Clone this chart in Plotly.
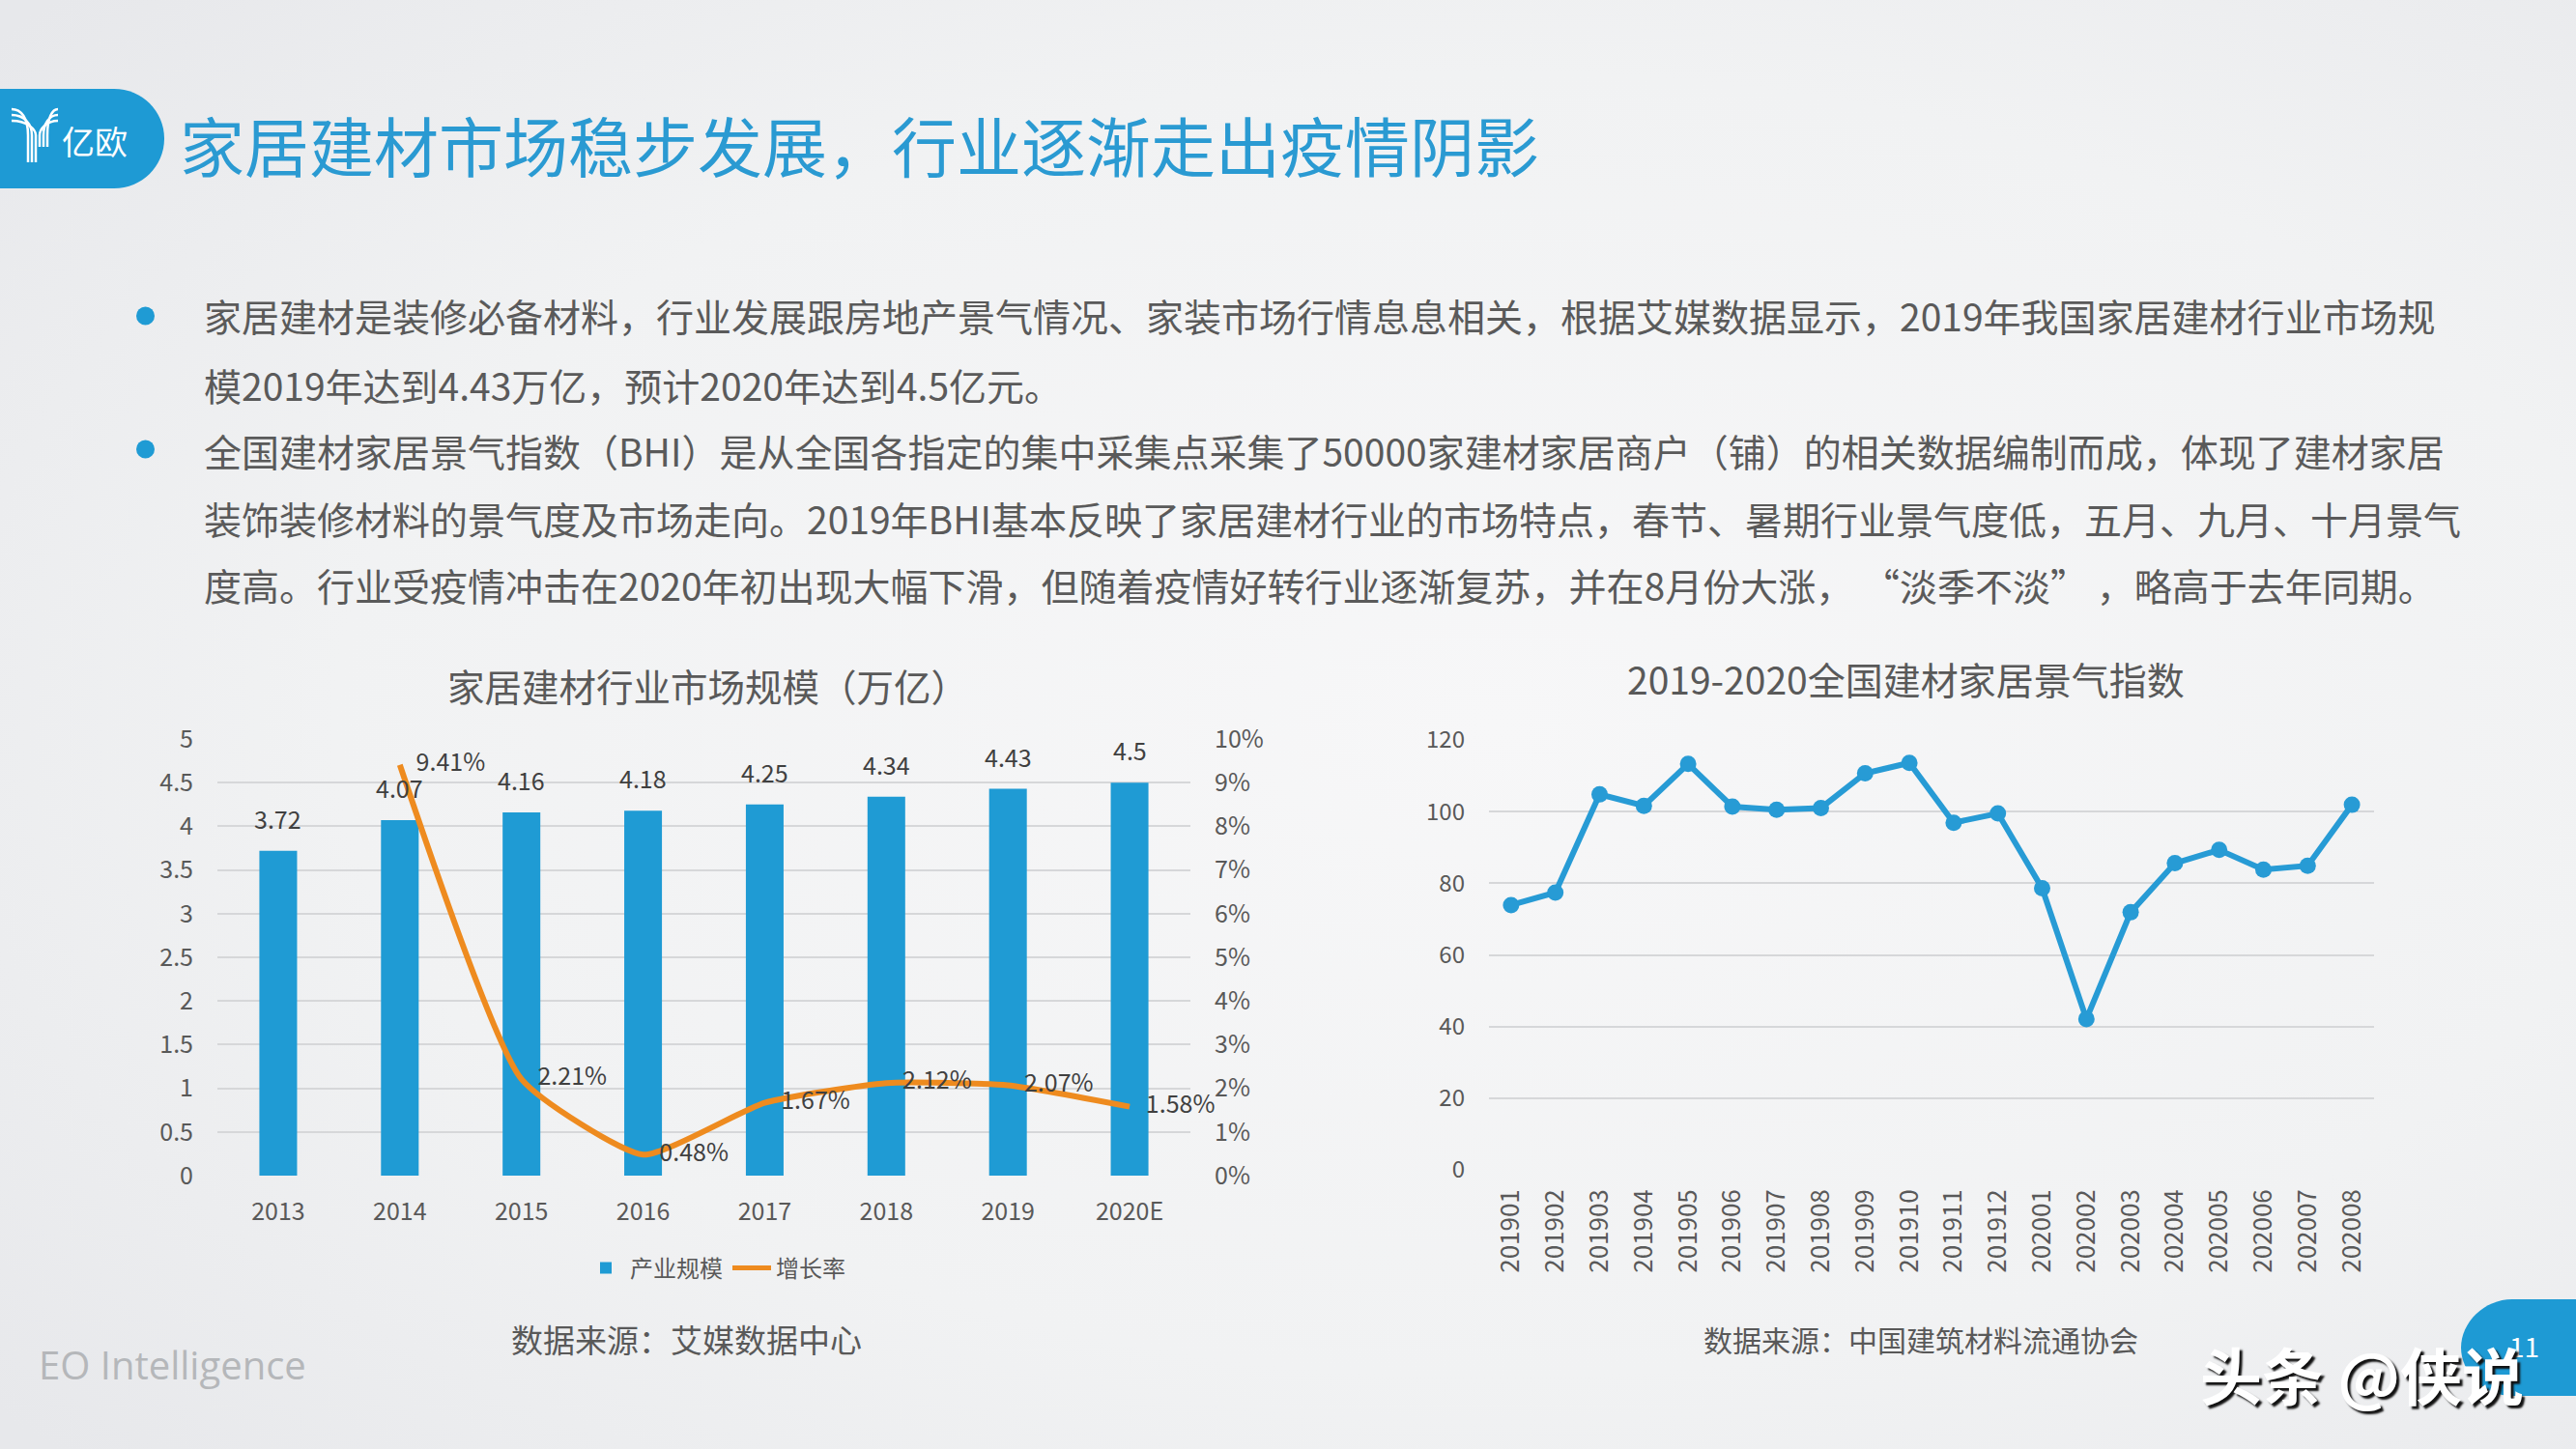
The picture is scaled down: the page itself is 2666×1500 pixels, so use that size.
import base64
import plotly.graph_objects as go

# ---------------- data ----------------
years = ["2013", "2014", "2015", "2016", "2017", "2018", "2019", "2020E"]
market_size = [3.72, 4.07, 4.16, 4.18, 4.25, 4.34, 4.43, 4.5]
growth_rate = [None, 9.41, 2.21, 0.48, 1.67, 2.12, 2.07, 1.58]

months = ["201901", "201902", "201903", "201904", "201905", "201906", "201907",
          "201908", "201909", "201910", "201911", "201912", "202001", "202002",
          "202003", "202004", "202005", "202006", "202007", "202008"]
bhi = [73.9, 77.4, 104.8, 101.6, 113.3, 101.4, 100.5, 101.0, 110.7, 113.6,
       96.9, 99.5, 78.6, 42.1, 71.9, 85.6, 89.3, 83.8, 84.9, 101.9]

title_text = "家居建材市场稳步发展，行业逐渐走出疫情阴影"
bullet_lines = [
    "家居建材是装修必备材料，行业发展跟房地产景气情况、家装市场行情息息相关，根据艾媒数据显示，2019年我国家居建材行业市场规",
    "模2019年达到4.43万亿，预计2020年达到4.5亿元。",
    "全国建材家居景气指数（BHI）是从全国各指定的集中采集点采集了50000家建材家居商户（铺）的相关数据编制而成，体现了建材家居",
    "装饰装修材料的景气度及市场走向。2019年BHI基本反映了家居建材行业的市场特点，春节、暑期行业景气度低，五月、九月、十月景气",
    "度高。行业受疫情冲击在2020年初出现大幅下滑，但随着疫情好转行业逐渐复苏，并在8月份大涨， “淡季不淡” ，略高于去年同期。",
]
left_title = "家居建材行业市场规模（万亿）"
right_title = "2019-2020全国建材家居景气指数"
left_source = "数据来源：艾媒数据中心"
right_source = "数据来源：中国建筑材料流通协会"

# ---------------- geometry helpers ----------------
W, H = 2666, 1500
def px(x):
    return x / W
def py(y):
    return 1 - y / H

FONT = "Noto Sans CJK SC"
GRAY = "#595959"
BLUE = "#1F9BD4"
ORANGE = "#EE8B1F"

fig = go.Figure()

# Left chart: bars + growth line
fig.add_trace(go.Bar(
    x=years, y=market_size, name="产业规模",
    marker=dict(color=BLUE, line=dict(width=0)),
    cliponaxis=False, xaxis="x", yaxis="y",
))
fig.add_trace(go.Scatter(
    x=years, y=growth_rate, name="增长率", mode="lines+text",
    line=dict(color=ORANGE, width=6, shape="spline", smoothing=0.5),
    text=[("" if v is None else f"   {v:.2f}%") for v in growth_rate],
    textposition="middle right",
    textfont=dict(size=25, color="#404040", family=FONT),
    cliponaxis=False, xaxis="x", yaxis="y2",
))

# Right chart: BHI line
fig.add_trace(go.Scatter(
    x=months, y=bhi, mode="lines+markers", showlegend=False,
    line=dict(color="#279BD5", width=6),
    marker=dict(color="#279BD5", size=17),
    cliponaxis=False, xaxis="x3", yaxis="y3",
))

axis_font = dict(size=25, color=GRAY, family=FONT)
fig.update_layout(
    width=W, height=H, autosize=False,
    margin=dict(l=0, r=0, t=0, b=0, pad=0, autoexpand=False),
    paper_bgcolor="#EFF0F2", plot_bgcolor="rgba(0,0,0,0)",
    font=dict(family=FONT, color=GRAY),
    bargap=0.69,
    xaxis=dict(domain=[px(225), px(1232)], type="category", range=[-0.5, 7.5],
               showgrid=False, showline=False, ticks="", tickfont=axis_font,
               ticklabelstandoff=20, anchor="y", automargin=False),
    yaxis=dict(domain=[py(1217), py(765)], range=[0, 5], dtick=0.5,
               showgrid=True, gridcolor="#D6D7D9", gridwidth=2, zeroline=False,
               showline=False, ticks="", tickfont=axis_font, ticklabelstandoff=24,
               anchor="x", automargin=False),
    yaxis2=dict(overlaying="y", side="right", range=[0, 10], dtick=1,
                ticksuffix="%", showgrid=False, zeroline=False, showline=False,
                ticks="", tickfont=axis_font, ticklabelstandoff=24, anchor="x",
                automargin=False),
    xaxis3=dict(domain=[px(1541), px(2457)], type="category", range=[-0.5, 19.5],
                showgrid=False, showline=False, ticks="", tickangle=-90,
                tickfont=dict(size=26, color=GRAY, family=FONT),
                ticklabelstandoff=14, anchor="y3", automargin=False),
    yaxis3=dict(domain=[py(1211), py(766)], range=[0, 120], dtick=20,
                showgrid=True, gridcolor="#D6D7D9", gridwidth=2, zeroline=False,
                showline=False, ticks="", tickfont=dict(size=24, color=GRAY, family=FONT),
                ticklabelstandoff=24, anchor="x3", automargin=False),
    legend=dict(orientation="h", x=px(741), xanchor="center", y=py(1313),
                yanchor="middle", bgcolor="rgba(0,0,0,0)",
                font=dict(size=24, color=GRAY, family=FONT),
                itemwidth=40, tracegroupgap=0, itemsizing="constant"),
)

# Background gradient
svg = ('<svg xmlns="http://www.w3.org/2000/svg" width="2666" height="1500">'
       '<defs><radialGradient id="g" cx="58%" cy="50%" r="75%">'
       '<stop offset="0" stop-color="#F7F7F8"/><stop offset="0.6" stop-color="#F1F2F3"/>'
       '<stop offset="1" stop-color="#E7E8EB"/></radialGradient></defs>'
       '<rect width="2666" height="1500" fill="url(#g)"/></svg>')
fig.add_layout_image(dict(
    source="data:image/svg+xml;base64," + base64.b64encode(svg.encode()).decode(),
    xref="paper", yref="paper", x=0, y=1, sizex=1, sizey=1,
    sizing="stretch", layer="below", xanchor="left", yanchor="top"))

shapes = []
def P(x, y):
    return f"{px(x):.6f},{py(y):.6f}"
# Logo block
logo_path = (f"M {P(0,92)} L {P(118,92)} C {P(147,92)} {P(170,115)} {P(170,143.5)} "
             f"C {P(170,172)} {P(147,195)} {P(118,195)} L {P(0,195)} Z")
shapes.append(dict(type="path", path=logo_path, xref="paper", yref="paper",
                   fillcolor="#1E9AD4", line=dict(width=0), layer="above"))
for k in range(3):
    sx = 29 + 4 * k
    p = (f"M {P(12, 113 + 6*k)} C {P(22 + 3*k, 113 + 6*k)} {P(sx, 122 + 6*k)} {P(sx, 140)} "
         f"L {P(sx, 168)}")
    shapes.append(dict(type="path", path=p, xref="paper", yref="paper",
                       line=dict(color="white", width=2.5), layer="above"))
    rx = 49 - 4 * k
    p = (f"M {P(60, 113 + 6*k)} C {P(54 - 3*k, 113 + 6*k)} {P(rx, 122 + 6*k)} {P(rx, 140)} "
         f"L {P(rx, 152)}")
    shapes.append(dict(type="path", path=p, xref="paper", yref="paper",
                       line=dict(color="white", width=2.5), layer="above"))

# Bullets
for yy in (327, 465):
    shapes.append(dict(type="circle", xref="paper", yref="paper",
                       x0=px(141), x1=px(160), y0=py(yy + 9.5), y1=py(yy - 9.5),
                       fillcolor=BLUE, line=dict(width=0)))

# Page number tab bottom-right
tab = (f"M {P(2600,1345)} L {P(2666,1345)} L {P(2666,1445)} L {P(2600,1445)} "
       f"C {P(2571,1445)} {P(2547,1421)} {P(2547,1395)} C {P(2547,1369)} {P(2571,1345)} {P(2600,1345)} Z")
shapes.append(dict(type="path", path=tab, xref="paper", yref="paper",
                   fillcolor="#1E9AD4", line=dict(width=0), layer="above"))
fig.update_layout(shapes=shapes)

ann = []
# Bar value labels, placed through the data axes (category index on x)
for i, v in enumerate(market_size):
    ann.append(dict(x=i, y=v, xref="x", yref="y", text=f"{v:g}", showarrow=False,
                    xanchor="center", yanchor="bottom", yshift=14,
                    font=dict(size=25, color="#404040", family=FONT)))

def text(x, y, s, size, color=GRAY, xanchor="left", family=FONT, fontkw=None):
    f = dict(size=size, color=color, family=family)
    if fontkw:
        f.update(fontkw)
    ann.append(dict(x=px(x), y=py(y), xref="paper", yref="paper", text=s,
                    showarrow=False, xanchor=xanchor, yanchor="middle", font=f))

text(62, 146, "亿欧", 34, color="white")
text(184, 148, title_text, 67, color="#2A9AD2")
line_y = [326, 398, 466, 536, 605]
for s, yy in zip(bullet_lines, line_y):
    text(209, yy, s, 39, color="#5A5A5A")
text(733, 709, left_title, 38.5, xanchor="center")
text(1972, 702, right_title, 39, xanchor="center")
text(710, 1386, left_source, 33, xanchor="center")
text(1988, 1386, right_source, 30, xanchor="center")
text(38, 1412, "EO Intelligence", 40, color="#B5B7BA", family="Open Sans")
text(2612, 1393, "11", 28, color="white", xanchor="center")
text(2444, 1421, "头条 @侠说", 64, color="white", xanchor="center",
     fontkw=dict(weight="bold", shadow="3px 3px 2px #111"))
fig.update_layout(annotations=ann)

fig.write_html("out.html", config={"displayModeBar": False},
               post_script="document.body.style.margin='0';")
